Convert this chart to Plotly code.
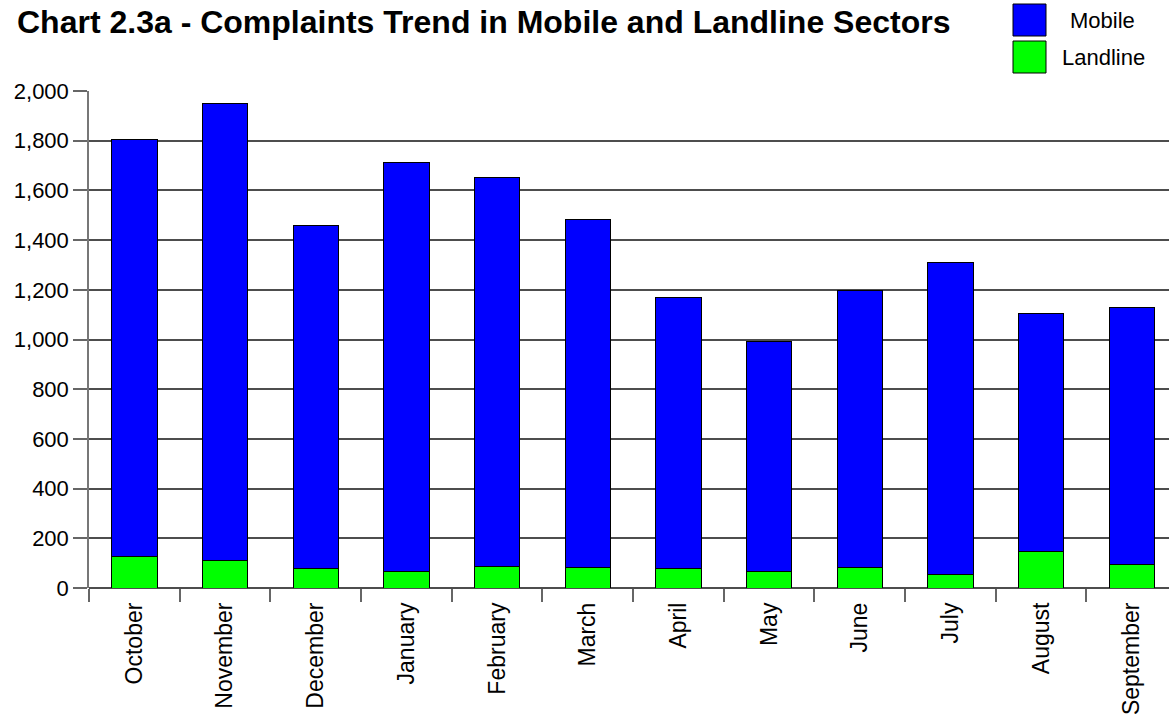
import plotly.graph_objects as go

months = ["October", "November", "December", "January", "February", "March",
          "April", "May", "June", "July", "August", "September"]
landline = [126, 109, 78, 65, 85, 81, 78, 65, 81, 56, 145, 96]
mobile = [1677, 1839, 1380, 1646, 1566, 1400, 1091, 927, 1116, 1253, 958, 1032]
y_ticks = [0, 200, 400, 600, 800, 1000, 1200, 1400, 1600, 1800, 2000]

W, H = 1169, 722
L, R, T, B = 89, 0, 91, 134
PW, PH = W - L - R, H - T - B
FONT = "Liberation Sans, Arial, sans-serif"

def px(x):
    return (x - L) / PW

def py(y):
    return (H - B - y) / PH

fig = go.Figure()
fig.add_trace(go.Bar(x=months, y=landline, name="Landline",
                     marker=dict(color="#00FF00", line=dict(color="black", width=1)),
                     width=0.5))
fig.add_trace(go.Bar(x=months, y=mobile, name="Mobile",
                     marker=dict(color="#0000FF", line=dict(color="black", width=1)),
                     width=0.5))

fig.update_layout(
    width=W, height=H,
    margin=dict(l=L, r=R, t=T, b=B, autoexpand=False),
    barmode="stack",
    showlegend=False,
    plot_bgcolor="white", paper_bgcolor="white",
    font=dict(family=FONT, size=23, color="black"),
    title=dict(text="<b>Chart 2.3a - Complaints Trend in Mobile and Landline Sectors</b>",
               xref="container", yref="container", x=17 / W, xanchor="left",
               y=1 - 22 / H, yanchor="middle",
               font=dict(family=FONT, size=32, color="black")),
    xaxis=dict(type="category", range=[-0.5, 11.41], tickson="boundaries",
               ticks="outside", ticklen=13, tickcolor="#666", tickwidth=1.5,
               tickangle=-90, showgrid=False, showline=False, zeroline=False,
               ticklabelstandoff=9,
               tickfont=dict(size=23)),
    yaxis=dict(range=[0, 2000], tickvals=y_ticks, tickformat=",",
               ticks="outside", ticklen=14, tickcolor="#666", tickwidth=1.5,
               showgrid=True, gridcolor="#4d4d4d", gridwidth=1.5,
               showline=True, linecolor="#777", linewidth=1.5,
               zeroline=True, zerolinecolor="#4d4d4d", zerolinewidth=1.5,
               tickfont=dict(size=22)),
)

# legend drawn manually (large swatches)
for (y0, y1, col, label, tx) in [(4, 36, "#0000FF", "Mobile", 1102),
                                  (41, 73, "#00FF00", "Landline", 1103)]:
    fig.add_shape(type="rect", xref="paper", yref="paper",
                  x0=px(1013), x1=px(1046), y0=py(y1), y1=py(y0),
                  fillcolor=col, line=dict(color="black", width=1))
    fig.add_annotation(xref="paper", yref="paper", x=px(tx), y=py((y0 + y1) / 2),
                       text=label, showarrow=False, xanchor="center", yanchor="middle",
                       font=dict(family=FONT, size=22, color="black"))

fig.write_html("out.html", config={"displayModeBar": False},
               post_script="document.body.style.margin='0';document.body.style.overflow='hidden';")
